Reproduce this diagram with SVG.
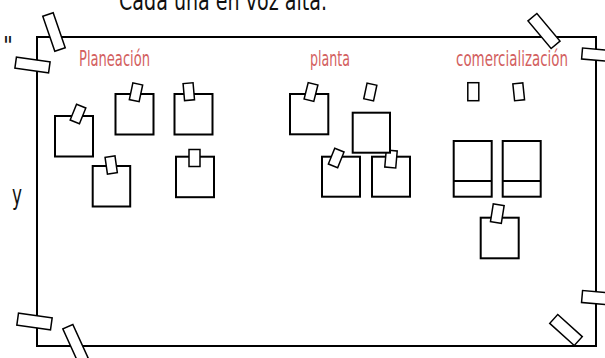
<svg xmlns="http://www.w3.org/2000/svg" width="605" height="358" viewBox="0 0 605 358">
  <style>
    .board { fill: #ffffff; stroke: #000000; stroke-width: 2; }
    .note { fill: #ffffff; stroke: #000000; stroke-width: 2; }
    .tape { fill: #ffffff; stroke: #000000; stroke-width: 1.5; }
    .thin { stroke: #000000; stroke-width: 2; fill: none; }
    .txt { font-family: "Liberation Sans Narrow", "DejaVu Sans Condensed", "Liberation Sans", sans-serif; fill: #111111; }
    .lbl { font-family: "Liberation Sans Narrow", "DejaVu Sans Condensed", "Liberation Sans", sans-serif; fill: #d35f5f; font-size: 22px; }
  </style>
  <rect width="605" height="358" fill="#ffffff"/>

  <!-- heading and margin text -->
  <text class="txt" x="119" y="10" font-size="26" textLength="208" lengthAdjust="spacingAndGlyphs">Cada una en voz alta.</text>
  <text class="txt" x="3" y="54" font-size="24">"</text>
  <text class="txt" x="12" y="204" font-size="27" textLength="10" lengthAdjust="spacingAndGlyphs">y</text>

  <!-- whiteboard -->
  <g id="board">
    <rect class="board" x="37" y="37" width="559" height="309"/>
    <rect class="tape" x="-5.5" y="-18.5" width="11" height="37" transform="translate(54,32) rotate(-19)"/>
    <rect class="tape" x="-17" y="-5.5" width="34" height="11" transform="translate(32.5,65) rotate(8)"/>
    <rect class="tape" x="-5.8" y="-18" width="11.6" height="36" transform="translate(544,31) rotate(-40)"/>
    <rect class="tape" x="-17" y="-5.5" width="34" height="11" transform="translate(599,55) rotate(5)"/>
    <rect class="tape" x="-17" y="-6" width="34" height="12" transform="translate(34.5,321.5) rotate(8)"/>
    <rect class="tape" x="-5.5" y="-18.5" width="11" height="37" transform="translate(75.5,343.5) rotate(-24.5)"/>
    <rect class="tape" x="-6" y="-16.5" width="12" height="33" transform="translate(566,330) rotate(-48)"/>
    <rect class="tape" x="-17" y="-6" width="34" height="12" transform="translate(599,298) rotate(5)"/>
  </g>

  <!-- column headings -->
  <text class="lbl" x="79" y="66" textLength="71" lengthAdjust="spacingAndGlyphs">Planeación</text>
  <text class="lbl" x="310" y="66" textLength="40" lengthAdjust="spacingAndGlyphs">planta</text>
  <text class="lbl" x="456" y="66" textLength="112" lengthAdjust="spacingAndGlyphs">comercialización</text>

  <!-- Planeación notes -->
  <g id="note-p1">
    <rect class="note" x="55" y="116" width="38" height="40.5"/>
    <rect class="tape" x="-5" y="-8.5" width="10" height="17" transform="translate(78,114) rotate(22)"/>
  </g>
  <g id="note-p2">
    <rect class="note" x="115.5" y="94" width="38" height="40.5"/>
    <rect class="tape" x="-5" y="-8.5" width="10" height="17" transform="translate(136,92.3) rotate(12)"/>
  </g>
  <g id="note-p3">
    <rect class="note" x="174.5" y="94" width="38" height="40.5"/>
    <rect class="tape" x="-5" y="-8.5" width="10" height="17" transform="translate(188.8,91.7) rotate(-5)"/>
  </g>
  <g id="note-p4">
    <rect class="note" x="92.7" y="166" width="37.5" height="40.5"/>
    <rect class="tape" x="-5" y="-8.5" width="10" height="17" transform="translate(111.2,165) rotate(-8)"/>
  </g>
  <g id="note-p5">
    <rect class="note" x="176" y="156.7" width="38" height="40.5"/>
    <rect class="tape" x="-5.5" y="-8.5" width="11" height="17" transform="translate(194.5,158)"/>
  </g>

  <!-- planta notes -->
  <g id="note-f1">
    <rect class="note" x="290" y="94" width="38.3" height="40.3"/>
    <rect class="tape" x="-5" y="-8.5" width="10" height="17" transform="translate(311,92) rotate(14)"/>
  </g>
  <g id="note-f3">
    <rect class="note" x="322" y="156.7" width="38" height="40"/>
    <rect class="tape" x="-5" y="-8.5" width="10" height="17" transform="translate(336.2,158) rotate(22)"/>
  </g>
  <g id="note-f4">
    <rect class="note" x="372" y="156.7" width="38" height="40"/>
    <rect class="tape" x="-5.5" y="-8.5" width="11" height="17" transform="translate(391,159) rotate(5)"/>
  </g>
  <g id="note-f2">
    <rect class="note" x="352.7" y="112.7" width="37.3" height="40"/>
    <rect class="tape" x="-5" y="-8" width="10" height="16" transform="translate(370.3,92) rotate(12)"/>
  </g>

  <!-- comercialización notes -->
  <g id="note-c1">
    <rect class="tape" x="-5.5" y="-9" width="11" height="18" transform="translate(473.3,91.7)"/>
    <rect class="note" x="453.7" y="141" width="38" height="55.7"/>
    <line class="thin" x1="453.7" y1="181" x2="491.7" y2="181"/>
  </g>
  <g id="note-c2">
    <rect class="tape" x="-5" y="-8.5" width="10" height="17" transform="translate(518.7,91.8) rotate(-6)"/>
    <rect class="note" x="502.7" y="141" width="38" height="55.7"/>
    <line class="thin" x1="502.7" y1="181" x2="540.7" y2="181"/>
  </g>
  <g id="note-c3">
    <rect class="note" x="480.7" y="217.7" width="38" height="40.6"/>
    <rect class="tape" x="-5.5" y="-9" width="11" height="18" transform="translate(497.3,213.7) rotate(9)"/>
  </g>
</svg>
